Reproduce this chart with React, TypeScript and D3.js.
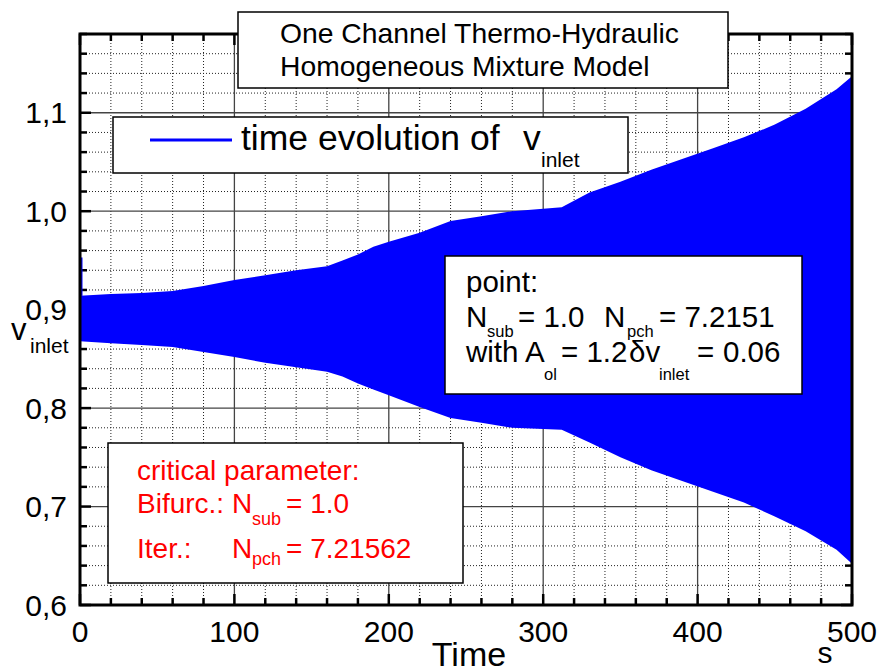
import * as React from "react";
import * as d3 from "d3";

const times = [0, 20, 40, 60, 80, 100, 120, 140, 160, 170, 180, 190, 200, 220, 240, 260, 280, 312, 330, 350, 370, 390, 410, 430, 450, 470, 490, 500];
const upperEnvelope = [0.914, 0.916, 0.917, 0.919, 0.924, 0.93, 0.935, 0.94, 0.944, 0.95, 0.956, 0.964, 0.969, 0.978, 0.99, 0.995, 1.0, 1.004, 1.019, 1.03, 1.042, 1.053, 1.064, 1.075, 1.088, 1.104, 1.124, 1.137];
const lowerEnvelope = [0.868, 0.866, 0.864, 0.862, 0.857, 0.852, 0.846, 0.8415, 0.837, 0.832, 0.825, 0.819, 0.813, 0.801, 0.79, 0.785, 0.78, 0.778, 0.765, 0.75, 0.737, 0.726, 0.715, 0.704, 0.69, 0.675, 0.656, 0.642];
const initialPeak = 0.953;

const xTicks = [0, 100, 200, 300, 400, 500];
const yTicks = [0.6, 0.7, 0.8, 0.9, 1.0, 1.1];
const xDomain = [0, 500];
const yDomain = [0.6, 1.18];

const FONT = "'Liberation Sans', Arial, Helvetica, sans-serif";
const BLUE = "#0000ff";
const RED = "#ff0000";

const T = ({ x, y, size, fill = "#000", anchor = "start", children }) => (
  <text x={x} y={y} fontSize={size} fill={fill} textAnchor={anchor} fontFamily={FONT}>
    {children}
  </text>
);

const App = () => {
  const width = 879;
  const height = 668;
  const left = 80;
  const right = 852;
  const top = 34;
  const bottom = 605;

  const x = d3.scaleLinear().domain(xDomain).range([left, right]);
  const y = d3.scaleLinear().domain(yDomain).range([bottom, top]);

  const minorX = d3.range(xDomain[0], xDomain[1] + 1, 20);
  const minorY = d3.range(0, 30).map((i) => +(0.6 + i * 0.02).toFixed(2)).filter((v) => v <= 1.18);
  const isMajorY = (v) => Math.abs(v * 10 - Math.round(v * 10)) < 1e-6;

  const band = times.map((t, i) => ({ t, hi: upperEnvelope[i], lo: lowerEnvelope[i] }));
  const area = d3
    .area()
    .x((d) => x(d.t))
    .y0((d) => y(d.lo))
    .y1((d) => y(d.hi))(band);

  const fmt = (v) => d3.format(".1f")(v).replace(".", ",");

  const majorLen = 11;
  const minorLen = 7;

  return (
    <svg
      width={width}
      height={height}
      viewBox={`0 0 ${width} ${height}`}
      style={{ position: "absolute", left: 0, top: 0, display: "block", background: "#fff" }}
    >
      <rect x="0" y="0" width={width} height={height} fill="#fff" />

      {/* minor grid (dotted) */}
      {minorX.filter((v) => v % 100 !== 0).map((v) => (
        <line key={"gx" + v} x1={x(v)} x2={x(v)} y1={top} y2={bottom} stroke="#222" strokeWidth="1" strokeDasharray="1 2" />
      ))}
      {minorY.filter((v) => !isMajorY(v)).map((v) => (
        <line key={"gy" + v} x1={left} x2={right} y1={y(v)} y2={y(v)} stroke="#222" strokeWidth="1" strokeDasharray="1 2" />
      ))}
      {/* major grid (solid) */}
      {xTicks.slice(1, -1).map((v) => (
        <line key={"GX" + v} x1={x(v)} x2={x(v)} y1={top} y2={bottom} stroke="#444" strokeWidth="1.3" />
      ))}
      {yTicks.slice(1).map((v) => (
        <line key={"GY" + v} x1={left} x2={right} y1={y(v)} y2={y(v)} stroke="#444" strokeWidth="1.3" />
      ))}

      {/* inward ticks on all four sides */}
      {minorX.map((v) => {
        const len = v % 100 === 0 ? majorLen : minorLen;
        return (
          <g key={"tx" + v}>
            <line x1={x(v)} x2={x(v)} y1={bottom} y2={bottom - len} stroke="#000" strokeWidth="2.5" />
            <line x1={x(v)} x2={x(v)} y1={top} y2={top + len} stroke="#000" strokeWidth="2.5" />
          </g>
        );
      })}
      {minorY.map((v) => {
        const len = isMajorY(v) ? majorLen : minorLen;
        return (
          <g key={"ty" + v}>
            <line x1={left} x2={left + len} y1={y(v)} y2={y(v)} stroke="#000" strokeWidth="2.5" />
            <line x1={right} x2={right - len} y1={y(v)} y2={y(v)} stroke="#000" strokeWidth="2.5" />
          </g>
        );
      })}

      {/* oscillation envelope */}
      <path d={area} fill={BLUE} />
      <line x1={x(0) + 1.5} x2={x(0) + 1.5} y1={y(upperEnvelope[0])} y2={y(initialPeak)} stroke={BLUE} strokeWidth="2" />

      {/* frame */}
      <rect x={left} y={top} width={right - left} height={bottom - top} fill="none" stroke="#000" strokeWidth="3" />

      {/* tick labels */}
      {xTicks.map((v) => (
        <T key={"lx" + v} x={x(v)} y={642} size={30} anchor="middle">
          {v}
        </T>
      ))}
      {yTicks.map((v) => (
        <T key={"ly" + v} x={67} y={y(v) + 10.5} size={30} anchor="end">
          {fmt(v)}
        </T>
      ))}

      {/* axis titles */}
      <T x={469} y={666} size={34} anchor="middle">Time</T>
      <T x={825} y={663} size={30} anchor="middle">s</T>
      <T x={11} y={340} size={31}>v</T>
      <T x={30} y={353} size={21}>inlet</T>

      {/* title box */}
      <rect x={238} y={12} width={490} height={76} fill="#fff" stroke="#000" strokeWidth="1.5" />
      <T x={280} y={43} size={28.3}>One Channel Thermo-Hydraulic</T>
      <T x={280} y={76} size={28.3}>Homogeneous Mixture Model</T>

      {/* legend */}
      <rect x={113} y={117} width={515} height={56} fill="#fff" stroke="#000" strokeWidth="1.5" />
      <line x1={150} x2={232} y1={140} y2={140} stroke={BLUE} strokeWidth="3" />
      <T x={241} y={150} size={35.5}>time evolution of</T>
      <T x={523} y={150} size={35.5}>v</T>
      <T x={541} y={167} size={21}>inlet</T>

      {/* working point box */}
      <rect x={445} y={256} width={357} height={138} fill="#fff" stroke="#000" strokeWidth="1.5" />
      <T x={466} y={292} size={29.5}>point:</T>
      <T x={466} y={327} size={29.5}>N</T>
      <T x={487} y={337} size={16.5}>sub</T>
      <T x={518} y={327} size={29.5}>= 1.0</T>
      <T x={604} y={327} size={29.5}>N</T>
      <T x={627} y={337} size={16.5}>pch</T>
      <T x={659} y={327} size={29.5}>= 7.2151</T>
      <T x={466} y={362} size={29.5}>with A</T>
      <T x={544} y={380} size={16.5}>ol</T>
      <T x={561} y={362} size={29.5}>= 1.2</T>
      <T x={629} y={362} size={29.5}>δv</T>
      <T x={659} y={380} size={16.5}>inlet</T>
      <T x={697} y={362} size={29.5}>=</T>
      <T x={723} y={362} size={29.5}>0.06</T>

      {/* critical parameter box */}
      <rect x={108} y={443} width={355} height={140} fill="#fff" stroke="#000" strokeWidth="1.5" />
      <T x={137} y={480} size={28} fill={RED}>critical parameter:</T>
      <T x={137} y={513} size={28} fill={RED}>Bifurc.:</T>
      <T x={232} y={513} size={28} fill={RED}>N</T>
      <T x={252} y={525} size={18} fill={RED}>sub</T>
      <T x={286} y={513} size={28} fill={RED}>= 1.0</T>
      <T x={137} y={558} size={28} fill={RED}>Iter.:</T>
      <T x={232} y={558} size={28} fill={RED}>N</T>
      <T x={252} y={565} size={18} fill={RED}>pch</T>
      <T x={286} y={558} size={28} fill={RED}>= 7.21562</T>
    </svg>
  );
};

export default App;
